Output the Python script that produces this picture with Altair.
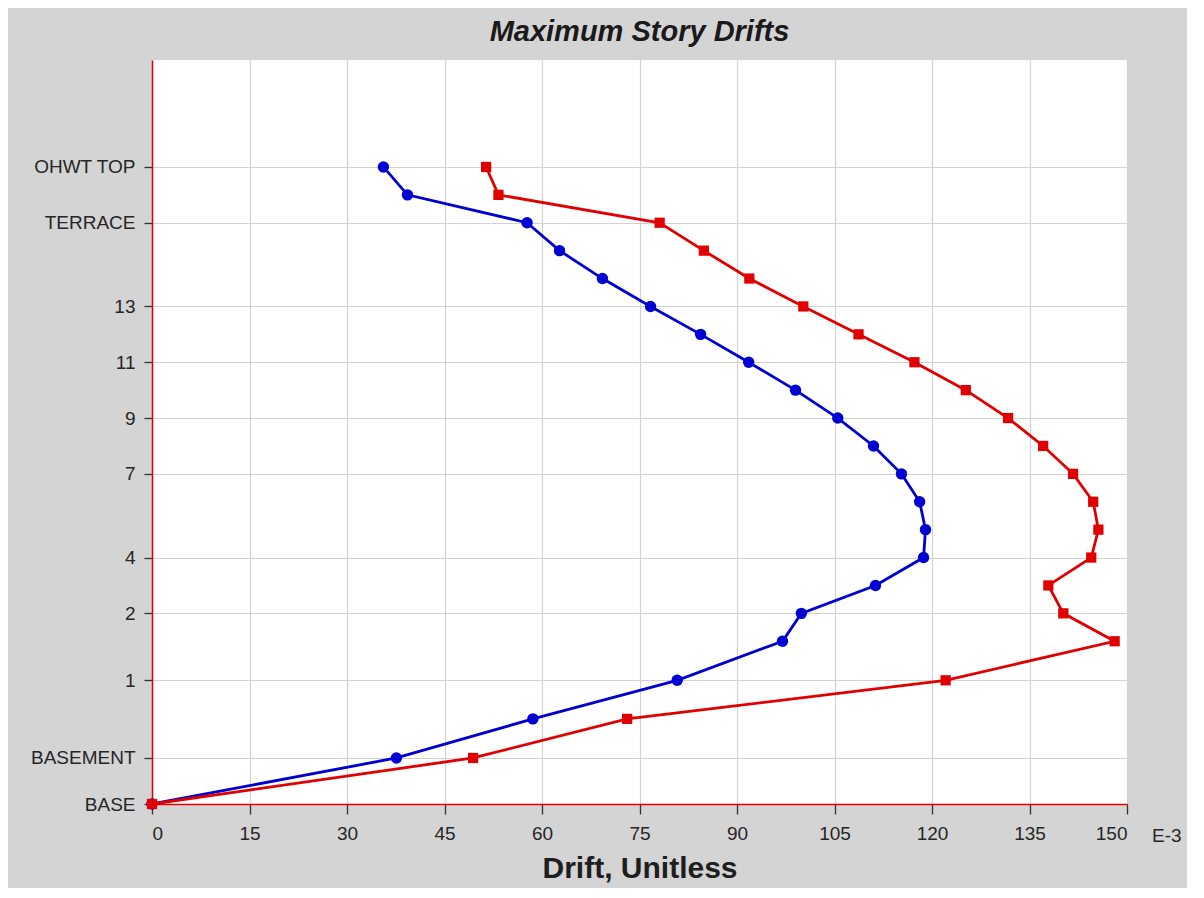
import altair as alt
import pandas as pd

# Story levels (bottom to top) and their elevations
stories = ["BASE", "BASEMENT", "GROUND", "1", "MEZZ", "2", "3", "4", "5", "6", "7",
           "8", "9", "10", "11", "12", "13", "14", "15", "TERRACE", "LMR", "OHWT TOP"]
elevations = [0, 4.95, 9.15, 13.3, 17.5, 20.5, 23.5, 26.5, 29.5, 32.5, 35.5,
              38.5, 41.5, 44.5, 47.5, 50.5, 53.5, 56.5, 59.5, 62.5, 65.5, 68.5]
labeled_stories = ["BASE", "BASEMENT", "1", "2", "4", "7", "9", "11", "13", "TERRACE", "OHWT TOP"]

# Drifts (E-3)
drift_blue = [0, 37.6, 58.6, 80.8, 97.0, 99.9, 111.3, 118.7, 119.0, 118.1, 115.3,
              111.0, 105.5, 99.0, 91.8, 84.4, 76.7, 69.3, 62.7, 57.7, 39.3, 35.6]
drift_red = [0, 49.4, 73.1, 122.1, 148.1, 140.2, 137.9, 144.5, 145.6, 144.8, 141.7,
             137.1, 131.7, 125.2, 117.3, 108.7, 100.2, 91.9, 84.9, 78.1, 53.3, 51.4]

x_ticks = [0, 15, 30, 45, 60, 75, 90, 105, 120, 135, 150]

FONT = "Liberation Sans"
BLUE = "#0000d2"
RED = "#e00000"
LABEL_SIZE = 19
LABEL_COLOR = "#262626"

blue_df = pd.DataFrame({"story": stories, "elev": elevations, "drift": drift_blue, "ord": range(len(stories))})
red_df = pd.DataFrame({"story": stories, "elev": elevations, "drift": drift_red, "ord": range(len(stories))})

y_tick_vals = [elevations[stories.index(s)] for s in labeled_stories]
label_expr = ""
for s, v in zip(labeled_stories, y_tick_vals):
    label_expr += f"datum.value == {v} ? '{s}' : "
label_expr += "''"

x_enc = alt.X("drift:Q",
              scale=alt.Scale(domain=[0, 150], nice=False, zero=False),
              axis=alt.Axis(values=x_ticks, title="Drift, Unitless", format="d",
                            domainColor=RED, domainWidth=1.5,
                            tickColor="#333333", tickSize=10, tickWidth=1.3,
                            labelFont=FONT, labelFontSize=LABEL_SIZE, labelColor=LABEL_COLOR,
                            labelPadding=10,
                            titleFont=FONT, titleFontSize=30, titleFontWeight="bold",
                            titleColor="#1e1e1e", titlePadding=10,
                            gridColor="#d2d2d2", gridWidth=1.2))
y_enc = alt.Y("elev:Q",
              scale=alt.Scale(domain=[0, 80], nice=False, zero=False),
              axis=alt.Axis(values=y_tick_vals, labelExpr=label_expr, title=None,
                            domainColor=RED, domainWidth=1.5,
                            tickColor="#333333", tickSize=8, tickWidth=1.3,
                            labelFont=FONT, labelFontSize=LABEL_SIZE, labelColor=LABEL_COLOR,
                            labelPadding=9,
                            gridColor="#d2d2d2", gridWidth=1.2))

def series(df, color, shape, size):
    base = alt.Chart(df).encode(x=x_enc, y=y_enc, order="ord:Q")
    line = base.mark_line(color=color, strokeWidth=2.8)
    pts = base.mark_point(shape=shape, filled=True, color=color, size=size, opacity=1)
    return line + pts

unit_df = pd.DataFrame({"t": ["E-3"]})
e3 = alt.Chart(unit_df).mark_text(font=FONT, fontSize=LABEL_SIZE, color=LABEL_COLOR,
                                  align="left", baseline="middle").encode(
    text="t:N", x=alt.value(1000), y=alt.value(776))

chart = alt.layer(
    series(blue_df, BLUE, "circle", 130),
    series(red_df, RED, "square", 105),
    e3,
).properties(
    width=975, height=744,
    title=alt.TitleParams("Maximum Story Drifts", font=FONT, fontSize=29,
                          fontStyle="italic", fontWeight="bold", color="#1a1a1a",
                          anchor="middle", offset=13),
    autosize=alt.AutoSizeParams(type="none"),
    padding={"left": 144, "top": 52, "right": 60, "bottom": 84},
    background="#d4d4d4",
).configure_view(fill="white", stroke=None)

chart.save("out.html", embed_options={"renderer": "svg", "actions": False})
